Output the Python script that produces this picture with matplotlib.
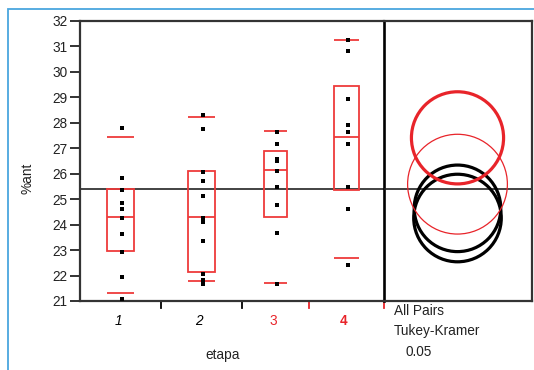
import numpy as np
import matplotlib
matplotlib.use("Agg")
import matplotlib.pyplot as plt
from matplotlib.patches import Rectangle, Circle

plt.rcParams['font.family'] = ['Liberation Sans', 'DejaVu Sans']

# --- data -------------------------------------------------------------
groups = ['1', '2', '3', '4']
etapa1 = [27.78, 25.82, 25.35, 24.84, 24.60, 24.25, 23.62, 22.91, 21.93, 21.06]
etapa2 = [28.29, 27.74, 26.05, 25.70, 25.12, 24.25, 24.09, 23.34, 22.05, 21.81, 21.65]
etapa3 = [27.63, 27.15, 26.58, 26.49, 26.09, 25.48, 24.76, 23.66, 21.65]
etapa4 = [31.24, 30.81, 28.92, 27.90, 27.63, 27.15, 25.48, 24.60, 22.40]
values = [etapa1, etapa2, etapa3, etapa4]

# quantile boxes (10%, 25%, 50%, 75%, 90%)
q10 = [21.31, 21.77, 21.71, 22.68]
q25 = [22.98, 22.14, 24.30, 25.36]
q50 = [24.31, 24.31, 26.15, 27.43]
q75 = [25.40, 26.09, 26.90, 29.46]
q90 = [27.44, 28.24, 27.67, 31.25]

# comparison circles (Tukey-Kramer, alpha 0.05)
circle_means = [24.26, 24.64, 25.59, 27.41]
circle_radii = [1.72, 1.70, 1.96, 1.81]
grand_mean = 25.40

y_ticks = list(range(21, 33))

# --- styling ----------------------------------------------------------
RED = '#e8242a'
BOXRED = '#ee3a3a'
group_widths = [81, 81, 67, 75]
box_frac = 0.33
label_color = ['black', 'black', RED, RED]
label_style = ['italic', 'italic', 'normal', 'normal']
label_weight = ['normal', 'normal', 'normal', 'bold']
circle_color = ['black', 'black', RED, RED]
circle_lw = [2.3, 2.3, 0.9, 2.3]

W, H = 534, 370
fig = plt.figure(figsize=(W / 100, H / 100), dpi=100)

def box(x0, y0, x1, y1):
    # pixel box (top-left origin) -> figure fraction
    return [x0 / W, 1 - y1 / H, (x1 - x0) / W, (y1 - y0) / H]

ax = fig.add_axes(box(80, 21, 384, 301))
axr = fig.add_axes(box(384, 21, 532, 301), sharey=ax)
axr.patch.set_visible(False)

edges = np.concatenate([[0], np.cumsum(group_widths)])
centers = (edges[:-1] + edges[1:]) / 2
ax.set_xlim(0, edges[-1])
ax.set_ylim(21, 32)

for i, vals in enumerate(values):
    c = centers[i]
    bw = group_widths[i] * box_frac
    ax.add_patch(Rectangle((c - bw / 2, q25[i]), bw, q75[i] - q25[i],
                           fill=False, edgecolor=BOXRED, lw=1.3, zorder=2))
    for q in (q10[i], q50[i], q90[i]):
        ax.plot([c - bw / 2, c + bw / 2], [q, q], color=BOXRED, lw=1.3,
                solid_capstyle='butt', zorder=2)
    ax.plot(np.full(len(vals), c + 1.5), vals, 's', color='black',
            markersize=2.2, markeredgewidth=0, zorder=3)

ax.axhline(grand_mean, color='#222222', lw=1.2, zorder=1)

ax.set_yticks(y_ticks)
ax.tick_params(axis='y', direction='out', length=7, width=1.3,
               labelsize=9.8, pad=2, colors='#222222')
ax.set_xticks([])
for s in ('left', 'bottom', 'top'):
    ax.spines[s].set_linewidth(1.6)
    ax.spines[s].set_color('#333333')
ax.spines['right'].set_linewidth(1.9)
ax.spines['right'].set_color('black')
ax.spines['right'].set_zorder(5)

# group separators below the axis
sep_colors = ['black', 'black', RED, RED]
for xe, col in zip(edges[1:], sep_colors):
    ax.plot([xe, xe], [0, -0.025], color=col, lw=1.3,
            transform=ax.get_xaxis_transform(), clip_on=False)

for i, g in enumerate(groups):
    ax.text(centers[i] - 2.5, -0.07, g, transform=ax.get_xaxis_transform(),
            ha='center', va='center', fontsize=9.8, color=label_color[i],
            fontstyle=label_style[i], fontweight=label_weight[i])

fig.text(223 / W, 1 - 355 / H, 'etapa', ha='center', va='center', fontsize=9.8,
         color='#222222')
fig.text(28 / W, 1 - 178 / H, '%ant', ha='center', va='center', fontsize=9.8,
         rotation=90, color='#222222')

# right panel: equal pixel scale on both axes so circles stay round
ppu = 280 / 11.0
xr = 148 / ppu
axr.set_xlim(0, xr)
axr.axhline(grand_mean, color='#222222', lw=1.2, zorder=1)
cx = (457.5 - 384) / ppu
for i in range(len(groups)):
    axr.add_patch(Circle((cx, circle_means[i]), circle_radii[i], fill=False,
                         edgecolor=circle_color[i], lw=circle_lw[i], zorder=3))
axr.set_xticks([])
axr.tick_params(axis='y', left=False, labelleft=False)
for s in ('right', 'bottom', 'top'):
    axr.spines[s].set_linewidth(1.6)
    axr.spines[s].set_color('#333333')
axr.spines['left'].set_visible(False)

fig.text(394 / W, 1 - 311 / H, 'All Pairs', ha='left', va='center',
         fontsize=9.8, color='#222222')
fig.text(394 / W, 1 - 331 / H, 'Tukey-Kramer', ha='left', va='center',
         fontsize=9.8, color='#222222')
fig.text(405 / W, 1 - 352 / H, '0.05', ha='left', va='center',
         fontsize=9.8, color='#222222')

# frame around the report
fig.add_artist(Rectangle((7.5 / W, -0.1), 1.2, 1 - 9 / H + 0.1,
                         transform=fig.transFigure, fill=False,
                         edgecolor='#4aa6de', lw=1.3))

fig.savefig('out.png', dpi=100)
